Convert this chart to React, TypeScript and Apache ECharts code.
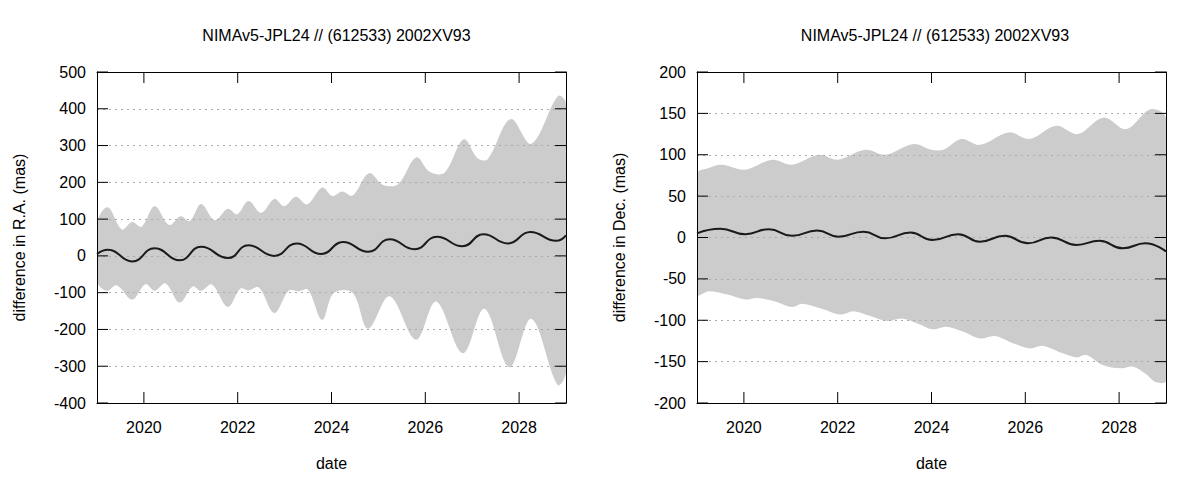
import { useEffect, useRef } from 'react';
import * as echarts from 'echarts';

const FONT = '"Liberation Sans", Arial, Helvetica, sans-serif';
const TITLE = 'NIMAv5-JPL24 // (612533) 2002XV93';
const YEAR_TICKS = [2020, 2022, 2024, 2026, 2028];
const RA_TICKS = [-400, -300, -200, -100, 0, 100, 200, 300, 400, 500];
const DEC_TICKS = [-200, -150, -100, -50, 0, 50, 100, 150, 200];

// R.A. panel: [decimal year, mas]
const raUpper = [
  [2019.0, 90], [2019.23, 132], [2019.53, 72], [2019.75, 92], [2019.95, 79],
  [2020.23, 135], [2020.54, 84], [2020.78, 108], [2020.98, 95], [2021.22, 141],
  [2021.51, 97], [2021.79, 128], [2021.99, 113], [2022.23, 149], [2022.5, 117],
  [2022.78, 155], [2022.99, 135], [2023.24, 161], [2023.48, 140], [2023.8, 186],
  [2024.02, 163], [2024.23, 175], [2024.45, 164], [2024.8, 225], [2025.1, 193],
  [2025.42, 195], [2025.81, 268], [2026.09, 229], [2026.41, 226], [2026.82, 317],
  [2027.12, 265], [2027.33, 263], [2027.82, 372], [2028.26, 305], [2028.83, 435],
  [2029.0, 415],
];
const raLower = [
  [2019.0, -68], [2019.21, -95], [2019.42, -80], [2019.75, -119], [2020.03, -77],
  [2020.23, -95], [2020.46, -75], [2020.76, -127], [2021.04, -83], [2021.22, -95],
  [2021.45, -78], [2021.79, -139], [2022.06, -89], [2022.23, -94], [2022.45, -86],
  [2022.78, -155], [2023.09, -94], [2023.3, -96], [2023.5, -92], [2023.8, -174],
  [2024.05, -101], [2024.45, -100], [2024.78, -198], [2025.24, -110], [2025.8, -228],
  [2026.23, -124], [2026.8, -265], [2027.26, -144], [2027.79, -303], [2028.26, -171],
  [2028.82, -351], [2029.0, -316],
];
const raDiff = [
  [2019.0, 5], [2019.23, 17], [2019.75, -15], [2020.23, 21], [2020.76, -12],
  [2021.22, 25], [2021.79, -6], [2022.23, 29], [2022.78, 0], [2023.26, 34],
  [2023.78, 5], [2024.25, 38], [2024.78, 11], [2025.24, 45], [2025.77, 18],
  [2026.25, 52], [2026.79, 26], [2027.24, 59], [2027.76, 34], [2028.24, 65],
  [2028.79, 41], [2029.0, 56],
];

// Dec. panel: [decimal year, mas]
const decUpper = [
  [2019.0, 77], [2019.25, 84], [2019.53, 88], [2020.03, 82], [2020.6, 94],
  [2021.03, 88], [2021.6, 100], [2022.0, 94], [2022.59, 106], [2023.02, 100],
  [2023.62, 113], [2024.0, 106], [2024.25, 106], [2024.64, 119], [2025.03, 112],
  [2025.65, 127], [2026.09, 119], [2026.66, 135], [2027.12, 125], [2027.67, 145],
  [2028.15, 131], [2028.67, 155], [2029.0, 144],
];
const decLower = [
  [2019.0, -69], [2019.25, -65], [2019.65, -69], [2020.03, -75], [2020.28, -73],
  [2020.65, -77], [2021.03, -84], [2021.24, -80], [2021.66, -86], [2022.06, -93],
  [2022.34, -89], [2022.7, -95], [2023.05, -101], [2023.37, -98], [2023.7, -104],
  [2024.02, -111], [2024.32, -108], [2024.68, -114], [2025.03, -122], [2025.35, -119],
  [2025.75, -128], [2026.09, -134], [2026.38, -131], [2026.8, -140], [2027.1, -145],
  [2027.3, -142], [2027.65, -154], [2028.04, -158], [2028.29, -156], [2028.57, -165],
  [2028.79, -175], [2029.0, -173],
];
const decDiff = [
  [2019.0, 5], [2019.5, 10.5], [2020.03, 4], [2020.53, 10], [2021.03, 2],
  [2021.56, 8.5], [2022.02, 1], [2022.55, 7], [2023.02, -1], [2023.55, 6],
  [2024.02, -3], [2024.57, 4], [2025.03, -5], [2025.56, 2], [2026.06, -7],
  [2026.55, 0], [2027.09, -9], [2027.58, -4], [2028.08, -13], [2028.56, -7],
  [2029.0, -17],
];

const X_MIN = 2019;
const X_MAX = 2029;
const TICK_LEN = 11;

const textStyle = { color: '#000', fontSize: 16, fontFamily: FONT };
const frameLine = { show: true, onZero: false, lineStyle: { color: '#000', width: 1 } };

const xAxes = (gridIndex: number) => [
  {
    type: 'value', gridIndex, position: 'bottom', min: X_MIN, max: X_MAX,
    name: 'date', nameLocation: 'middle', nameGap: 52, nameTextStyle: textStyle,
    axisLine: frameLine,
    axisTick: { show: false },
    axisLabel: { customValues: YEAR_TICKS, margin: 16, formatter: (v: number) => String(v), ...textStyle },
    splitLine: { show: false },
    z: 5,
  },
  {
    type: 'value', gridIndex, position: 'top', min: X_MIN, max: X_MAX,
    axisLine: frameLine,
    axisTick: { show: false },
    axisLabel: { show: false },
    splitLine: { show: false },
    z: 5,
  },
];

const yAxes = (gridIndex: number, min: number, max: number, interval: number, name: string) => [
  {
    type: 'value', gridIndex, position: 'left', min, max, interval,
    name, nameLocation: 'middle', nameGap: 70, nameRotate: 90, nameTextStyle: textStyle,
    axisLine: frameLine,
    axisTick: { show: false },
    axisLabel: { margin: 11, ...textStyle },
    splitLine: { show: true, lineStyle: { color: '#aaaaaa', width: 1, type: [2, 4] } },
    z: 5,
  },
  {
    type: 'value', gridIndex, position: 'right', min, max, interval,
    axisLine: frameLine,
    axisTick: { show: false },
    axisLabel: { show: false },
    splitLine: { show: false },
    z: 5,
  },
];

// gray uncertainty band: upper edge forward, lower edge back
const band = (upper: number[][], lower: number[][], axisIndex: number) => ({
  type: 'custom',
  xAxisIndex: axisIndex,
  yAxisIndex: axisIndex,
  clip: true,
  silent: true,
  z: 1,
  data: [[2024, 0]],
  renderItem: (_params: any, api: any) => {
    const pts = [...upper, ...lower.slice().reverse()].map((p) => api.coord(p));
    return {
      type: 'polygon',
      shape: { points: pts, smooth: 0.35 },
      style: { fill: '#cccccc', stroke: 'none' },
    };
  },
});

// gnuplot-style inward ticks on all four sides
const ticks = (yTicks: number[], axisIndex: number) => ({
  type: 'custom',
  xAxisIndex: axisIndex,
  yAxisIndex: axisIndex,
  silent: true,
  z: 8,
  data: [[2024, 0]],
  renderItem: (_params: any, api: any) => {
    const yMin = yTicks[0];
    const yMax = yTicks[yTicks.length - 1];
    const children: any[] = [];
    const seg = (x1: number, y1: number, x2: number, y2: number) =>
      children.push({
        type: 'line',
        shape: { x1, y1, x2, y2 },
        style: { stroke: '#000', lineWidth: 1 },
      });
    YEAR_TICKS.forEach((yr) => {
      const b = api.coord([yr, yMin]);
      const t = api.coord([yr, yMax]);
      seg(b[0], b[1], b[0], b[1] - TICK_LEN);
      seg(t[0], t[1], t[0], t[1] + TICK_LEN);
    });
    yTicks.forEach((v) => {
      const l = api.coord([X_MIN, v]);
      const r = api.coord([X_MAX, v]);
      seg(l[0], l[1], l[0] + TICK_LEN, l[1]);
      seg(r[0], r[1], r[0] - TICK_LEN, r[1]);
    });
    return { type: 'group', children };
  },
});

const diffLine = (data: number[][], axisIndex: number) => ({
  type: 'line',
  xAxisIndex: axisIndex,
  yAxisIndex: axisIndex,
  data,
  smooth: 0.5,
  showSymbol: false,
  silent: true,
  z: 10,
  lineStyle: { color: '#1a1a1a', width: 2 },
});

export default function App() {
  const ref = useRef<HTMLDivElement>(null);

  useEffect(() => {
    if (!ref.current) return;
    const chart = echarts.init(ref.current, null, { renderer: 'svg' });

    chart.setOption({
      animation: false,
      backgroundColor: '#fff',
      title: [
        { text: TITLE, left: 336.5, top: 27, textAlign: 'center', padding: 0, textStyle: { ...textStyle, fontWeight: 'normal' } },
        { text: TITLE, left: 935, top: 27, textAlign: 'center', padding: 0, textStyle: { ...textStyle, fontWeight: 'normal' } },
      ],
      grid: [
        { left: 97, top: 72, width: 469, height: 331 },
        { left: 697, top: 72, width: 469, height: 331 },
      ],
      xAxis: [...xAxes(0), ...xAxes(1)],
      yAxis: [
        ...yAxes(0, -400, 500, 100, 'difference in R.A. (mas)'),
        ...yAxes(1, -200, 200, 50, 'difference in Dec. (mas)'),
      ],
      series: [
        band(raUpper, raLower, 0),
        ticks(RA_TICKS, 0),
        diffLine(raDiff, 0),
        band(decUpper, decLower, 2),
        ticks(DEC_TICKS, 2),
        diffLine(decDiff, 2),
      ],
    });

    return () => chart.dispose();
  }, []);

  return (
    <div
      ref={ref}
      style={{ position: 'absolute', left: 0, top: 0, width: 1200, height: 480 }}
    />
  );
}
